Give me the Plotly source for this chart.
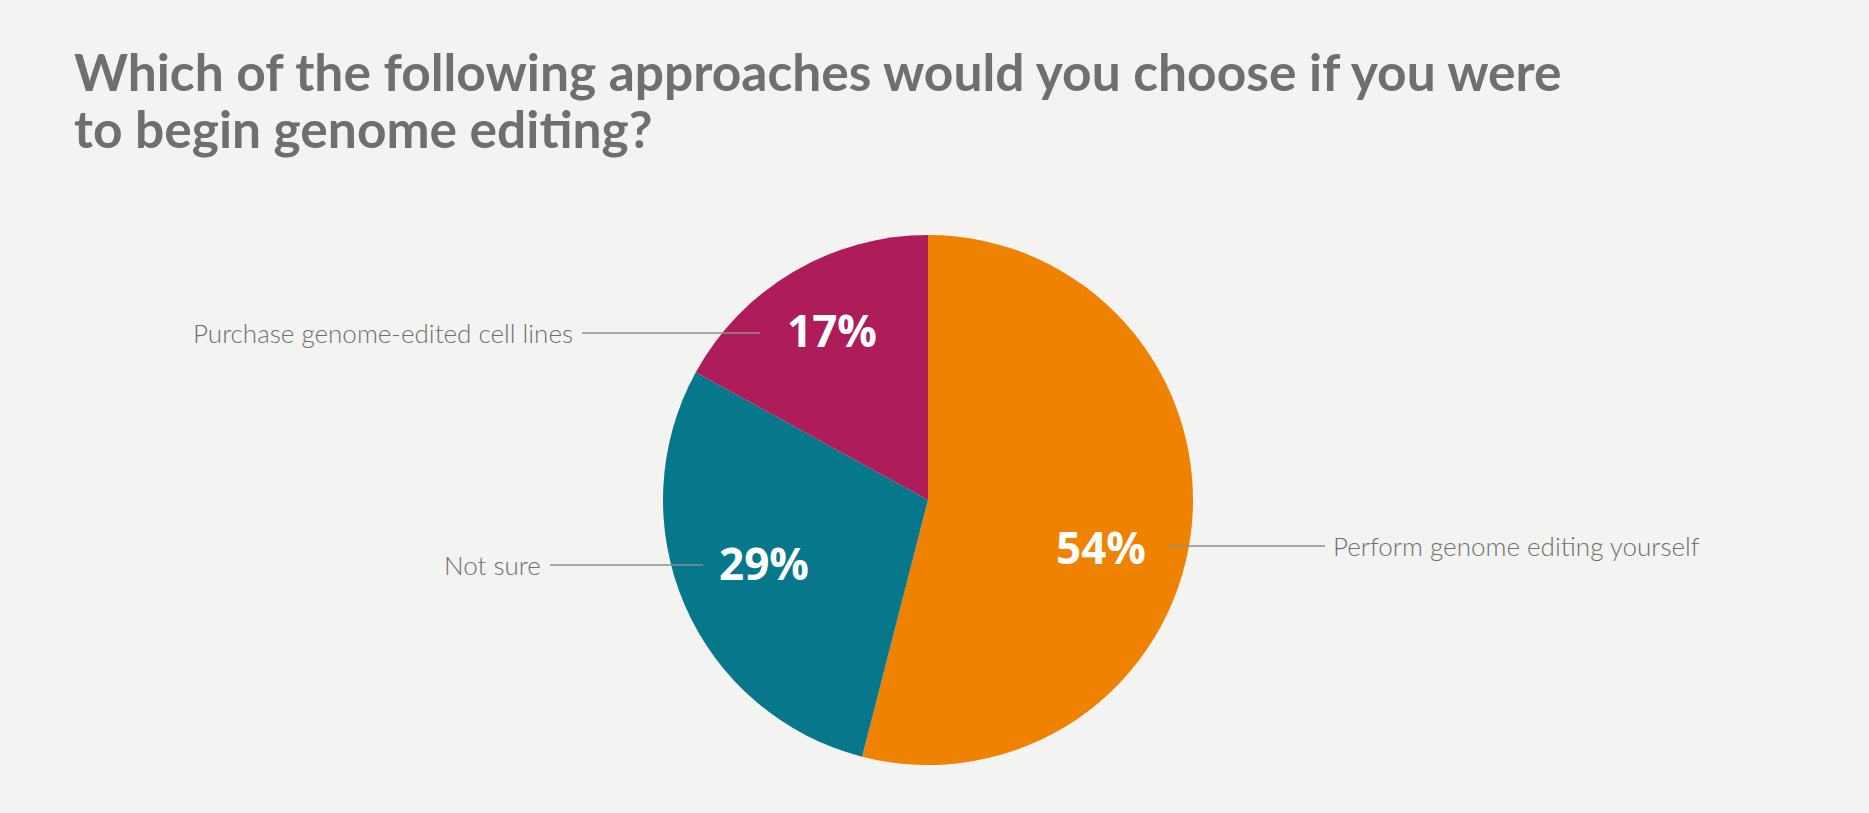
import plotly.graph_objects as go

# ---- data ----
categories = ["Perform genome editing yourself", "Not sure", "Purchase genome-edited cell lines"]
values = [54, 29, 17]
colors = ["#EF8200", "#07788C", "#AE1C5A"]
title_lines = ["Which of the following approaches would you choose if you were",
               "to begin genome editing?"]

W, H = 1869, 813
CX, CY, R = 928, 500, 265  # pie centre/radius in px

def px(x):
    return x / W

def py(y):
    return 1 - y / H

BG = "#F3F3F1"
TXT = "#6F6F6F"
LINE = "#8C8C8C"
FONT_T = "Lato, Roboto, sans-serif"

# label layout (pixel positions) per slice: percentage centre, leader line, label side
pct_pos = [(1101, 547), (764, 563), (832, 330)]
leader = [(1168, 1325, 546), (550, 703, 565), (582, 760, 333)]
side = ["right", "left", "left"]

fig = go.Figure()
fig.add_trace(go.Pie(
    labels=categories, values=values, sort=False, direction="clockwise",
    rotation=0, marker=dict(colors=colors, line=dict(width=0)),
    textinfo="none", hoverinfo="label+percent", showlegend=False,
    domain=dict(x=[px(CX - R), px(CX + R)], y=[py(CY + R), py(CY - R)]),
))

annotations = []
shapes = []
for i, v in enumerate(values):
    x0, x1, ly = leader[i]
    shapes.append(dict(type="line", xref="paper", yref="paper",
                       x0=px(x0), x1=px(x1), y0=py(ly), y1=py(ly),
                       line=dict(color=LINE, width=1.5)))
    if side[i] == "right":
        annotations.append(dict(
            x=px(x1 + 6), y=py(ly), xref="paper", yref="paper", showarrow=False,
            text=categories[i], font=dict(family=FONT_T, size=26, color=TXT, weight=300),
            xanchor="left", yanchor="middle"))
    else:
        annotations.append(dict(
            x=px(x0 - 7), y=py(ly), xref="paper", yref="paper", showarrow=False,
            text=categories[i], font=dict(family=FONT_T, size=26, color=TXT, weight=300),
            xanchor="right", yanchor="middle"))
for i, v in enumerate(values):
    x, y = pct_pos[i]
    annotations.append(dict(
        x=px(x), y=py(y), xref="paper", yref="paper", showarrow=False,
        text=f"<b>{v}%</b>", font=dict(family="Open Sans, sans-serif", size=44, color="white"),
        xanchor="center", yanchor="middle"))

for k, line in enumerate(title_lines):
    annotations.append(dict(
        x=px(72), y=py(71 + 57 * k), xref="paper", yref="paper", showarrow=False,
        text=f"<b>{line}</b>", font=dict(family=FONT_T, size=51.5, color=TXT),
        xanchor="left", yanchor="middle"))

fig.update_layout(
    width=W, height=H, margin=dict(l=0, r=0, t=0, b=0),
    paper_bgcolor=BG, plot_bgcolor=BG,
    annotations=annotations, shapes=shapes,
)
fig.write_html("out.html", post_script="document.body.style.margin='0';",
               config={"displayModeBar": False})
